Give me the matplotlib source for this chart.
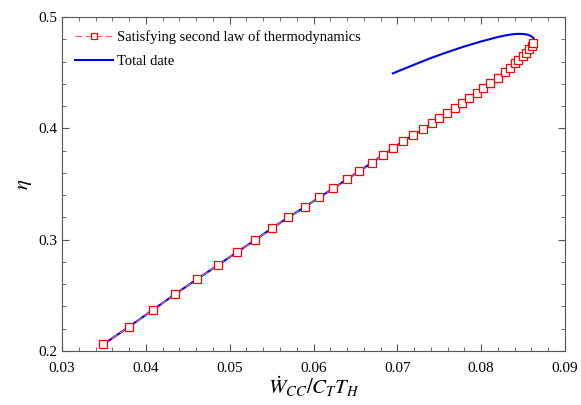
import matplotlib
matplotlib.use('Agg')
import matplotlib.pyplot as plt
from matplotlib.ticker import MultipleLocator

plt.rcParams['font.family'] = ['Liberation Serif', 'DejaVu Serif']
plt.rcParams['mathtext.fontset'] = 'stix'

# points satisfying the second law
w_ok = [0.03493, 0.03800, 0.04082, 0.04352, 0.04607, 0.04858, 0.05085, 0.05303,
        0.05502, 0.05700, 0.05900, 0.06070, 0.06237, 0.06397, 0.06548, 0.06696,
        0.06827, 0.06953, 0.07073, 0.07192, 0.07304, 0.07412, 0.07499, 0.07591,
        0.07690, 0.07770, 0.07849, 0.07949, 0.08027, 0.08107, 0.08206, 0.08286,
        0.08346, 0.08406, 0.08445, 0.08498, 0.08537, 0.08576, 0.08605, 0.08624]
eta_ok = [0.2060, 0.2218, 0.2368, 0.2512, 0.2644, 0.2770, 0.2887, 0.2997,
          0.3102, 0.3201, 0.3296, 0.3381, 0.3461, 0.3542, 0.3617, 0.3691,
          0.3761, 0.3821, 0.3889, 0.3940, 0.3991, 0.4045, 0.4090, 0.4135,
          0.4180, 0.4225, 0.4270, 0.4315, 0.4360, 0.4405, 0.4449, 0.4509,
          0.4539, 0.4584, 0.4614, 0.4650, 0.4679, 0.4710, 0.4740, 0.4769]

# upper branch of the full data set
w_up = [0.08634, 0.08632, 0.08618, 0.08592, 0.08555, 0.08505, 0.08450, 0.08386,
        0.08290, 0.08187, 0.07988, 0.07789, 0.07591, 0.07391, 0.07192, 0.06946]
eta_up = [0.4785, 0.4800, 0.4816, 0.4830, 0.4841, 0.4847, 0.4849, 0.4846,
          0.4835, 0.4818, 0.4778, 0.4733, 0.4683, 0.4629, 0.4569, 0.4494]

w_all = w_ok + w_up
eta_all = eta_ok + eta_up

fig = plt.figure(figsize=(5.81, 4.05), dpi=100)
ax = fig.add_axes([0.1067, 0.1333, 0.8658, 0.8247])

blue, = ax.plot(w_all, eta_all, color='#0000ee', lw=1.5, zorder=2, label='Total date')
red, = ax.plot(w_ok, eta_ok, color='#ff6666', lw=0.8, ls=(0, (6, 3)), marker='s', ms=5.5,
               mfc='white', mec='red', mew=0.9, zorder=3,
               label='Satisfying second law of thermodynamics')

ax.set_xlim(0.03, 0.09)
ax.set_ylim(0.2, 0.5)
ax.xaxis.set_major_locator(MultipleLocator(0.01))
ax.xaxis.set_minor_locator(MultipleLocator(0.002))
ax.yaxis.set_major_locator(MultipleLocator(0.1))
ax.yaxis.set_minor_locator(MultipleLocator(0.02))
ax.tick_params(which='both', direction='in', top=True, right=True, labelsize=11,
               color='#555555')
ax.tick_params(which='major', length=5)
ax.tick_params(which='minor', length=3)
ax.tick_params(axis='x', pad=8)
for s in ax.spines.values():
    s.set_color('#555555')

ax.set_xlabel(r'$\dot{W}_{CC}/C_T T_H$', fontsize=15, labelpad=0)
ax.set_ylabel(r'$\eta$', fontsize=15, labelpad=3)

ax.legend(handles=[red, blue], loc='upper left', frameon=False, fontsize=10.5,
          handlelength=2.6, handletextpad=0.3, borderaxespad=0.5, labelspacing=0.75,
          borderpad=0.4, markerscale=0.8)

fig.savefig('out.png', dpi=100)
